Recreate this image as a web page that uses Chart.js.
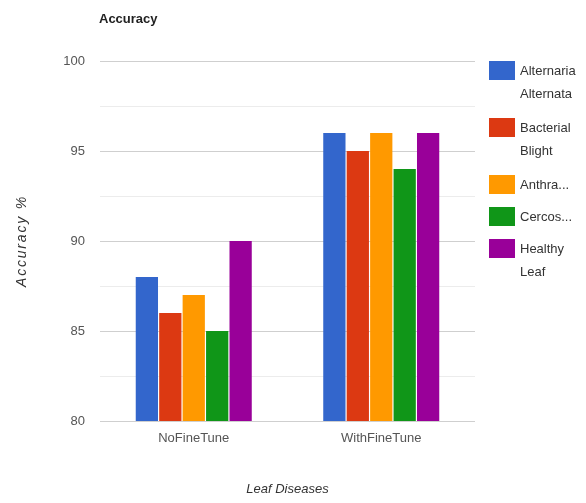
<!DOCTYPE html>
<html>
<head>
<meta charset="utf-8">
<script src="https://cdn.jsdelivr.net/npm/chart.js@4/dist/chart.umd.min.js"></script>
<style>
  html, body { margin: 0; padding: 0; background: #fff; }
  #wrap { position: relative; width: 586px; height: 503px; }
</style>
</head>
<body>
<div id="wrap"><canvas id="c" width="586" height="503"></canvas></div>
<script>
// Categories and series
const categories = ['NoFineTune', 'WithFineTune'];
const seriesNames = [
  ['Alternaria', 'Alternata'],
  ['Bacterial', 'Blight'],
  ['Anthra...'],
  ['Cercos...'],
  ['Healthy', 'Leaf']
];
const alternariaAlternata = [88, 96];
const bacterialBlight = [86, 95];
const anthracnose = [87, 96];
const cercospora = [85, 94];
const healthyLeaf = [90, 96];
const seriesColors = ['#3366cc', '#dc3912', '#ff9900', '#109618', '#990099'];
const yTicks = [80, 85, 90, 95, 100];

const seriesValues = [alternariaAlternata, bacterialBlight, anthracnose, cercospora, healthyLeaf];

const FONT = "'Liberation Sans', Arial, sans-serif";

// Chart title, rotated y-axis title and the wrapped side legend
const sideLegend = {
  id: 'sideLegend',
  afterDraw(chart) {
    const ctx = chart.ctx;
    const area = chart.chartArea;
    ctx.save();
    ctx.fillStyle = '#222';
    ctx.font = 'bold 13px ' + FONT;
    ctx.textBaseline = 'middle';
    ctx.textAlign = 'left';
    ctx.fillText('Accuracy', area.left - 1, 19);

    // y-axis title
    ctx.save();
    ctx.translate(22, (area.top + area.bottom) / 2);
    ctx.rotate(-Math.PI / 2);
    ctx.textAlign = 'center';
    ctx.fillStyle = '#333';
    ctx.font = 'italic 14px ' + FONT;
    ctx.letterSpacing = '1.8px';
    ctx.fillText('Accuracy %', 0, 0);
    ctx.restore();

    ctx.font = '13px ' + FONT;
    ctx.textAlign = 'left';
    let y = area.top;
    const lineH = 23;
    chart.data.datasets.forEach((ds, i) => {
      const lines = seriesNames[i];
      ctx.fillStyle = ds.backgroundColor;
      ctx.fillRect(489, y, 26, 19);
      ctx.fillStyle = '#333';
      lines.forEach((t, k) => ctx.fillText(t, 520, y + 10 + k * lineH));
      y += lines.length > 1 ? 57 : 32;
    });
    ctx.restore();
  }
};

new Chart(document.getElementById('c'), {
  type: 'bar',
  data: {
    labels: categories,
    datasets: seriesValues.map((vals, i) => ({
      label: seriesNames[i].join(' '),
      data: vals,
      backgroundColor: seriesColors[i],
      categoryPercentage: 0.625,
      barPercentage: 0.95
    }))
  },
  options: {
    responsive: false,
    animation: false,
    layout: { padding: { left: 0, right: 111, top: 61, bottom: 0 } },
    plugins: {
      legend: { display: false },
      title: { display: false },
      tooltip: { enabled: false }
    },
    scales: {
      x: {
        grid: { display: false, drawTicks: false },
        border: { display: false },
        ticks: { color: '#555', font: { family: FONT, size: 13 }, padding: 10 },
        title: {
          display: true,
          text: 'Leaf Diseases',
          color: '#333',
          font: { family: FONT, size: 13, style: 'italic' },
          padding: { top: 4, bottom: 6 }
        },
        afterFit(scale) { scale.height = 82; }
      },
      y: {
        min: 80,
        max: 100,
        afterBuildTicks(scale) {
          const t = [];
          for (let k = 0; k < yTicks.length; k++) {
            t.push({ value: yTicks[k] });
            if (k < yTicks.length - 1) t.push({ value: (yTicks[k] + yTicks[k + 1]) / 2 });
          }
          scale.ticks = t;
        },
        grid: {
          drawTicks: false,
          color: (c) => yTicks.includes(c.tick.value) ? '#cfcfcf' : '#ececec',
          lineWidth: 1
        },
        border: { display: false },
        ticks: {
          color: '#555',
          font: { family: FONT, size: 13 },
          padding: 15,
          callback: (v) => yTicks.includes(v) ? String(v) : ''
        },
        title: { display: false },
        afterFit(scale) { scale.width = 100; }
      }
    }
  },
  plugins: [sideLegend]
});
</script>
</body>
</html>
